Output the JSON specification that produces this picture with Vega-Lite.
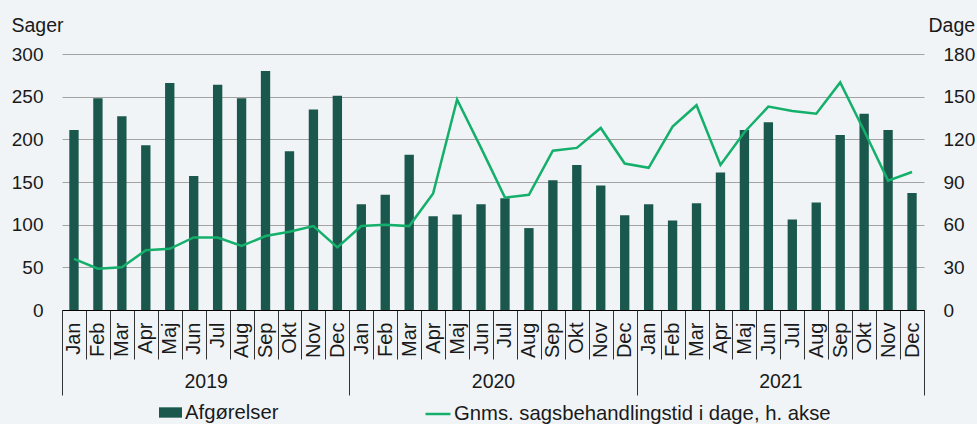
{
  "$schema": "https://vega.github.io/schema/vega-lite/v6.json",
  "width": 862,
  "height": 256,
  "autosize": "none",
  "padding": {"left": 62, "top": 54, "right": 53, "bottom": 114},
  "background": "#f0f4f7",
  "config": {
    "view": {"stroke": null},
    "font": "Liberation Sans",
    "axis": {"labelFont": "Liberation Sans", "titleFont": "Liberation Sans", "labelColor": "#1a1a1a", "titleColor": "#1a1a1a", "labelFontSize": 19, "titleFontSize": 19.5, "titleFontWeight": "normal"},
    "legend": {"labelFont": "Liberation Sans", "labelFontSize": 20.3, "labelColor": "#1a1a1a", "labelLimit": 0}
  },
  "data": {
    "values": [
      {"periode": "Jan 2019", "aar": 2019, "afgorelser": 211, "dage": 36},
      {"periode": "Feb 2019", "aar": 2019, "afgorelser": 248, "dage": 29},
      {"periode": "Mar 2019", "aar": 2019, "afgorelser": 227, "dage": 30},
      {"periode": "Apr 2019", "aar": 2019, "afgorelser": 193, "dage": 42},
      {"periode": "Maj 2019", "aar": 2019, "afgorelser": 266, "dage": 43},
      {"periode": "Jun 2019", "aar": 2019, "afgorelser": 157, "dage": 51},
      {"periode": "Jul 2019", "aar": 2019, "afgorelser": 264, "dage": 51},
      {"periode": "Aug 2019", "aar": 2019, "afgorelser": 248, "dage": 45},
      {"periode": "Sep 2019", "aar": 2019, "afgorelser": 280, "dage": 52},
      {"periode": "Okt 2019", "aar": 2019, "afgorelser": 186, "dage": 55},
      {"periode": "Nov 2019", "aar": 2019, "afgorelser": 235, "dage": 59},
      {"periode": "Dec 2019", "aar": 2019, "afgorelser": 251, "dage": 44},
      {"periode": "Jan 2020", "aar": 2020, "afgorelser": 124, "dage": 59},
      {"periode": "Feb 2020", "aar": 2020, "afgorelser": 135, "dage": 60},
      {"periode": "Mar 2020", "aar": 2020, "afgorelser": 182, "dage": 59},
      {"periode": "Apr 2020", "aar": 2020, "afgorelser": 110, "dage": 82},
      {"periode": "Maj 2020", "aar": 2020, "afgorelser": 112, "dage": 148},
      {"periode": "Jun 2020", "aar": 2020, "afgorelser": 124, "dage": 114},
      {"periode": "Jul 2020", "aar": 2020, "afgorelser": 131, "dage": 79},
      {"periode": "Aug 2020", "aar": 2020, "afgorelser": 96, "dage": 81},
      {"periode": "Sep 2020", "aar": 2020, "afgorelser": 152, "dage": 112},
      {"periode": "Okt 2020", "aar": 2020, "afgorelser": 170, "dage": 114},
      {"periode": "Nov 2020", "aar": 2020, "afgorelser": 146, "dage": 128},
      {"periode": "Dec 2020", "aar": 2020, "afgorelser": 111, "dage": 103},
      {"periode": "Jan 2021", "aar": 2021, "afgorelser": 124, "dage": 100},
      {"periode": "Feb 2021", "aar": 2021, "afgorelser": 105, "dage": 129},
      {"periode": "Mar 2021", "aar": 2021, "afgorelser": 125, "dage": 144},
      {"periode": "Apr 2021", "aar": 2021, "afgorelser": 161, "dage": 102},
      {"periode": "Maj 2021", "aar": 2021, "afgorelser": 211, "dage": 125},
      {"periode": "Jun 2021", "aar": 2021, "afgorelser": 220, "dage": 143},
      {"periode": "Jul 2021", "aar": 2021, "afgorelser": 106, "dage": 140},
      {"periode": "Aug 2021", "aar": 2021, "afgorelser": 126, "dage": 138},
      {"periode": "Sep 2021", "aar": 2021, "afgorelser": 205, "dage": 160},
      {"periode": "Okt 2021", "aar": 2021, "afgorelser": 230, "dage": 126},
      {"periode": "Nov 2021", "aar": 2021, "afgorelser": 211, "dage": 91},
      {"periode": "Dec 2021", "aar": 2021, "afgorelser": 137, "dage": 97}
    ]
  },
  "layer": [
    {
      "layer": [
        {
          "mark": {"type": "bar", "width": {"band": 0.39}},
          "encoding": {
            "x": {
              "field": "periode", "type": "ordinal", "sort": null,
              "scale": {"paddingInner": 0, "paddingOuter": 0},
              "axis": {"orient": "bottom", "title": null, "labelExpr": "datum.value ? split(datum.value, ' ')[0] : ''", "labelAngle": -90, "labelFontSize": 20, "labelPadding": -37, "tickBand": "extent", "tickSize": 49, "tickColor": "#333333", "tickWidth": 1, "domainColor": "#000000", "domainWidth": 1, "grid": false}
            },
            "y": {
              "field": "afgorelser", "type": "quantitative",
              "scale": {"domain": [0, 300], "nice": false},
              "axis": {"values": [0, 50, 100, 150, 200, 250, 300], "ticks": false, "domain": false, "labelPadding": 19, "gridColor": "#a3a3a3", "gridWidth": 1.2, "title": "Sager", "titleAngle": 0, "titleAlign": "left", "titleBaseline": "alphabetic", "titleX": -51, "titleY": -23}
            },
            "color": {
              "datum": "Afgørelser",
              "scale": {"range": ["#1a584d"]},
              "legend": {"orient": "none", "legendX": 96, "legendY": 346, "title": null, "symbolType": "M-1,-0.45H1V0.45H-1Z", "symbolSize": 529, "labelOffset": 2, "symbolOpacity": 1}
            }
          }
        },
        {
          "mark": {"type": "line", "strokeWidth": 2.5},
          "encoding": {
            "x": {"field": "periode", "type": "ordinal", "sort": null},
            "y": {
              "field": "dage", "type": "quantitative",
              "scale": {"domain": [0, 180], "nice": false},
              "axis": {"orient": "right", "values": [0, 30, 60, 90, 120, 150, 180], "ticks": false, "domain": false, "grid": false, "labelPadding": 19, "title": "Dage", "titleAngle": 0, "titleAlign": "left", "titleBaseline": "alphabetic", "titleX": 4, "titleY": -23}
            },
            "stroke": {
              "datum": "Gnms. sagsbehandlingstid i dage, h. akse",
              "scale": {"range": ["#14b06b"]},
              "legend": {"orient": "none", "legendX": 362, "legendY": 346, "title": null, "symbolType": "stroke", "symbolSize": 625, "symbolStrokeWidth": 2.5, "labelOffset": 2}
            }
          }
        }
      ],
      "resolve": {"scale": {"y": "independent"}}
    },
    {
      "mark": {"type": "point", "opacity": 0},
      "encoding": {
        "x": {
          "field": "aar", "type": "ordinal",
          "scale": {"paddingInner": 0, "paddingOuter": 0},
          "axis": {"orient": "bottom", "title": null, "labelAngle": 0, "labelFontSize": 19.5, "tickBand": "extent", "tickSize": 85, "tickColor": "#333333", "tickWidth": 1, "domain": false, "grid": false, "labelPadding": -23}
        }
      }
    }
  ],
  "resolve": {"scale": {"x": "independent"}}
}
